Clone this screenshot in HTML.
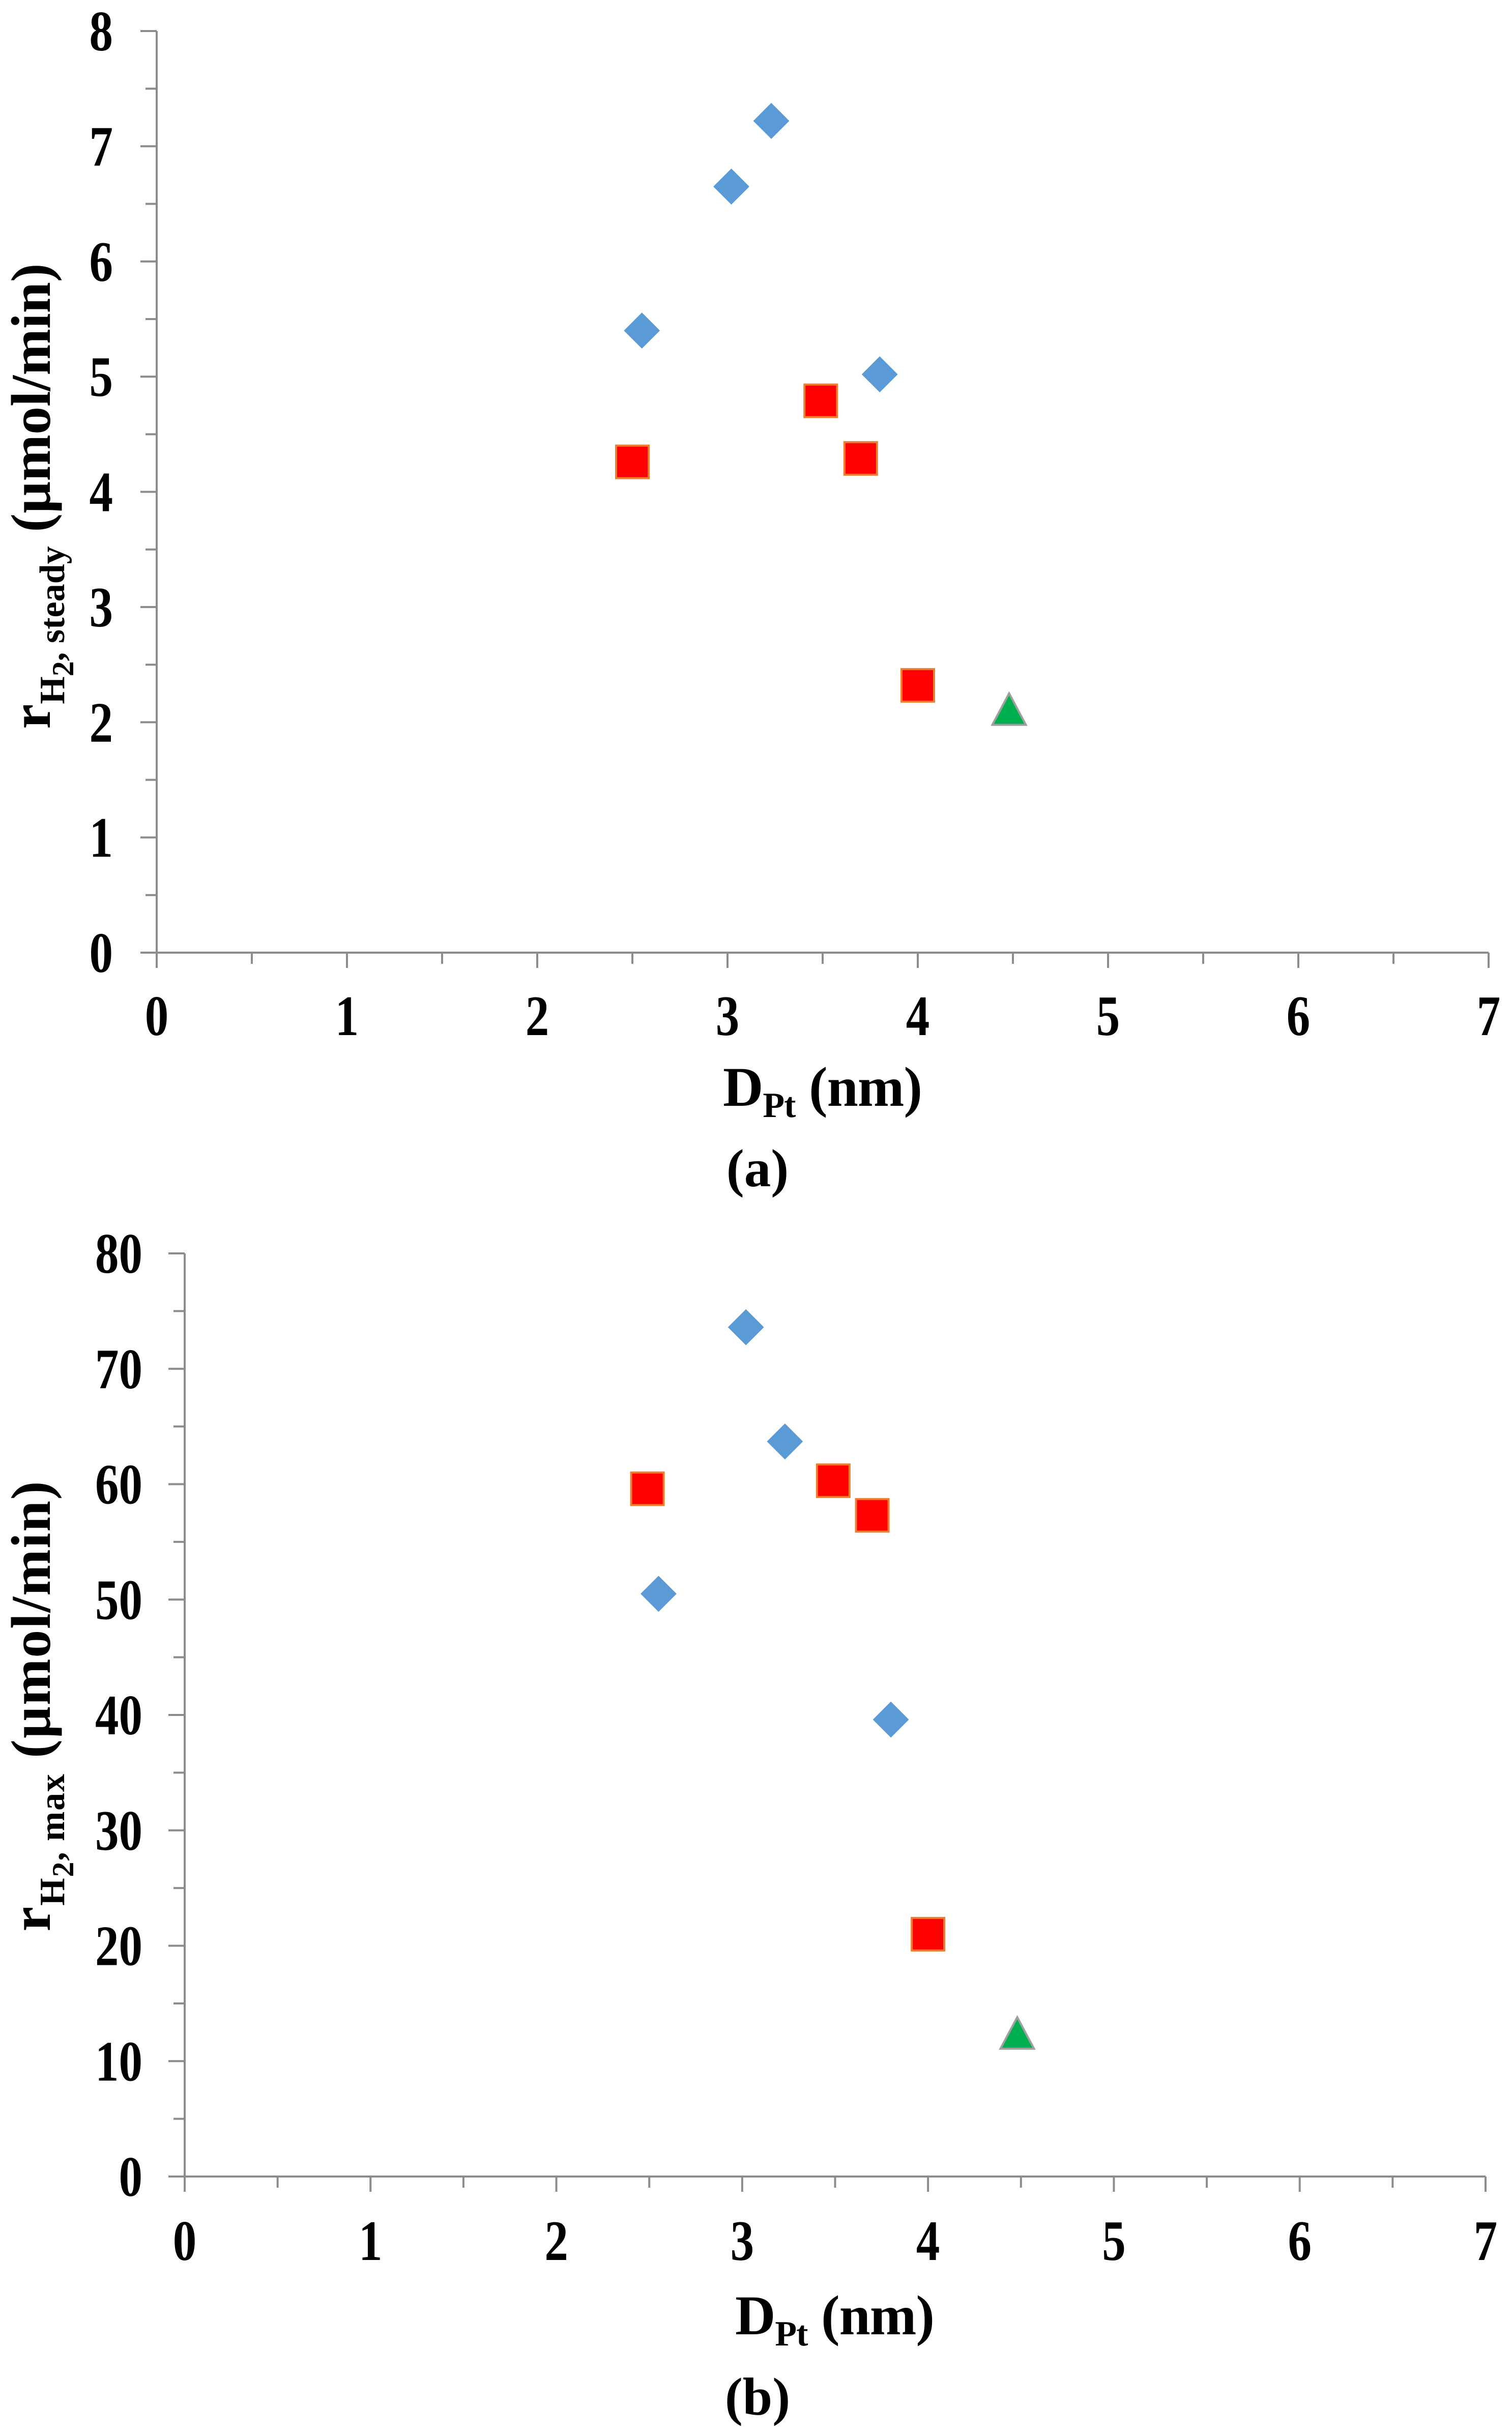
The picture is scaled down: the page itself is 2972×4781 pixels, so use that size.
<!DOCTYPE html>
<html><head><meta charset="utf-8">
<style>
html,body{margin:0;padding:0;background:#fff;}
svg{display:block;}
text{font-family:"Liberation Serif",serif;font-weight:bold;fill:#000;}
</style></head>
<body>
<svg id="fig" width="2972" height="4781" viewBox="0 0 2972 4781" xmlns="http://www.w3.org/2000/svg"></svg>
<script>
// Panel (a) data
const xTicksA = [0,1,2,3,4,5,6,7];
const yTicksA = [0,1,2,3,4,5,6,7,8];
const diamondXA = [2.55,3.02,3.23,3.80];
const diamondYA = [5.40,6.65,7.22,5.02];
const squareXA = [2.50,3.49,3.70,4.00];
const squareYA = [4.26,4.79,4.29,2.32];
const triangleXA = [4.48];
const triangleYA = [2.11];
// Panel (b) data
const xTicksB = [0,1,2,3,4,5,6,7];
const yTicksB = [0,10,20,30,40,50,60,70,80];
const diamondXB = [2.55,3.02,3.23,3.80];
const diamondYB = [50.5,73.6,63.7,39.6];
const squareXB = [2.49,3.49,3.70,4.00];
const squareYB = [59.6,60.3,57.3,21.0];
const triangleXB = [4.48];
const triangleYB = [12.4];

const NS = "http://www.w3.org/2000/svg";
const svg = document.getElementById('fig');
function mk(tag, attrs, parent){
  const e = document.createElementNS(NS, tag);
  for (const k in attrs) e.setAttribute(k, attrs[k]);
  (parent||svg).appendChild(e);
  return e;
}

function drawPanel(cfg){
  const g = mk('g', {});
  
  
  const xMin = cfg.xt[0], xMax = cfg.xt[cfg.xt.length-1];
  const yMin = cfg.yt[0], yMax = cfg.yt[cfg.yt.length-1];
  const sx = v => cfg.x0 + (v - xMin) / (xMax - xMin) * (cfg.x1 - cfg.x0);
  const sy = v => cfg.y0 - (v - yMin) / (yMax - yMin) * (cfg.y0 - cfg.y1);
  const axC = '#8c8c8c';
  // axes
  const ya = mk('line', {x1:cfg.x0, y1:cfg.y0, x2:cfg.x0, y2:cfg.y1, stroke:axC, 'stroke-width':4}, g);
  
  
  const xa = mk('line', {x1:cfg.x0, y1:cfg.y0, x2:cfg.x1, y2:cfg.y0, stroke:axC, 'stroke-width':4}, g);
  
  
  // y ticks (major + minor)
  const yStep = cfg.yt[1]-cfg.yt[0];
  for (let i=0;i<cfg.yt.length;i++){
    const y = sy(cfg.yt[i]);
    const t = mk('line', {x1:cfg.x0-32, y1:y, x2:cfg.x0, y2:y, stroke:axC, 'stroke-width':4}, g);
    
    
    if (i < cfg.yt.length-1){
      const ym = sy(cfg.yt[i]+yStep/2);
      const m = mk('line', {x1:cfg.x0-22, y1:ym, x2:cfg.x0, y2:ym, stroke:axC, 'stroke-width':4}, g);
      
      
    }
    const lbl = mk('text', {'font-size':112, 'text-anchor':'end',
      transform:'translate('+cfg.yLblRight+','+(y+38)+') scale(0.83,1)'}, g);
    lbl.textContent = cfg.yt[i];
    
    
  }
  const xStep = cfg.xt[1]-cfg.xt[0];
  for (let i=0;i<cfg.xt.length;i++){
    const x = sx(cfg.xt[i]);
    const t = mk('line', {x1:x, y1:cfg.y0, x2:x, y2:cfg.y0+30, stroke:axC, 'stroke-width':4}, g);
    
    
    if (i < cfg.xt.length-1){
      const xm = sx(cfg.xt[i]+xStep/2);
      const m = mk('line', {x1:xm, y1:cfg.y0, x2:xm, y2:cfg.y0+22, stroke:axC, 'stroke-width':4}, g);
      
      
    }
    const lbl = mk('text', {'font-size':112, 'text-anchor':'middle',
      transform:'translate('+x+','+cfg.xLblBase+') scale(0.83,1)'}, g);
    lbl.textContent = cfg.xt[i];
    
    
  }
  // diamonds
  for (let i=0;i<cfg.dx.length;i++){
    const cx = sx(cfg.dx[i]), cy = sy(cfg.dy[i]), r = 34;
    const p = mk('polygon', {points:[cx,cy-r,cx+r,cy,cx,cy+r,cx-r,cy].join(' '), fill:'#5B9BD5', stroke:'#5B9BD5', 'stroke-width':2}, g);
    
    
  }
  for (let i=0;i<cfg.sqx.length;i++){
    const cx = sx(cfg.sqx[i]), cy = sy(cfg.sqy[i]), h = 32;
    const p = mk('rect', {x:cx-h, y:cy-h, width:2*h, height:2*h, fill:'#FF0000', stroke:'#ED7D31', 'stroke-width':4}, g);
    
    
  }
  for (let i=0;i<cfg.tx.length;i++){
    const cx = sx(cfg.tx[i]), cy = sy(cfg.ty[i]);
    const p = mk('polygon', {points:[cx,cy-32,cx+33,cy+30,cx-33,cy+30].join(' '), fill:'#00B050', stroke:'#a0a0a0', 'stroke-width':4}, g);
    
    
  }
  // x axis title
  const xt = mk('text', {x:cfg.xTitleX, y:cfg.xTitleY, 'font-size':110}, g);
  
  
  xt.innerHTML = 'D<tspan font-size="70" dy="22">Pt</tspan><tspan dy="-22"> (nm)</tspan>';
  xt.setAttribute('textLength', 392);
  // caption
  const cap = mk('text', {x:cfg.capX, y:cfg.capY, 'font-size':105, 'text-anchor':'middle'}, g);
  cap.textContent = cfg.cap;
  
  
  // y axis title
  const yt = mk('text', {transform:'translate(98,'+cfg.yTitleC+') rotate(-90)', 'font-size':110, 'text-anchor':'middle'}, g);
  
  
  yt.innerHTML = 'r<tspan font-size="70" dy="28">H</tspan><tspan font-size="60" dy="18">2</tspan><tspan font-size="70" dy="-18">, ' + cfg.sub + '</tspan><tspan dy="-28"> (µmol/min)</tspan>';
  yt.setAttribute('textLength', cfg.yTitleLen);
}

drawPanel({name:'panel-a', xt:xTicksA, yt:yTicksA, x0:308, x1:2926, y0:1872, y1:61,
  dx:diamondXA, dy:diamondYA, sqx:squareXA, sqy:squareYA, tx:triangleXA, ty:triangleYA,
  yLblRight:222, xLblBase:2034, xTitleX:1421, xTitleY:2173, capX:1489, capY:2331, cap:'(a)',
  yTitleC:975, yTitleLen:915, sub:'steady'});
drawPanel({name:'panel-b', xt:xTicksB, yt:yTicksB, x0:363, x1:2920, y0:4277, y1:2463,
  dx:diamondXB, dy:diamondYB, sqx:squareXB, sqy:squareYB, tx:triangleXB, ty:triangleYB,
  yLblRight:280, xLblBase:4441, xTitleX:1445, xTitleY:4587, capX:1489, capY:4745, cap:'(b)',
  yTitleC:3353, yTitleLen:885, sub:'max'});
</script>
</body></html>
